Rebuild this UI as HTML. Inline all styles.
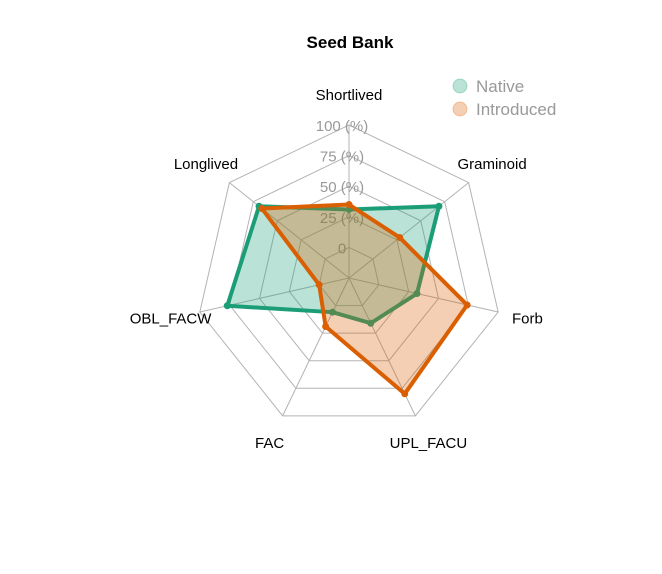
<!DOCTYPE html>
<html><head><meta charset="utf-8"><style>
body{margin:0;background:#fff}
svg{display:block;font-family:"Liberation Sans",Arial,sans-serif}
</style></head><body>
<svg id="c" width="662" height="574">
<text x="350" y="48" text-anchor="middle" font-weight="bold" font-size="17">Seed Bank</text>
<g id="grid"></g>
<g id="ticks"></g>
<g id="series"></g>
<g id="labels"></g>
<g>
<g><circle cx="460" cy="86" r="7" fill="#1b9e77" fill-opacity="0.3" stroke="#1b9e77" stroke-opacity="0.3"/><text x="476" y="92" font-size="17" fill="#999">Native</text></g>
<g><circle cx="460" cy="109" r="7" fill="#d95f02" fill-opacity="0.3" stroke="#d95f02" stroke-opacity="0.3"/><text x="476" y="115" font-size="17" fill="#999">Introduced</text></g>
</g>
</svg>
<script>
const categories=["Shortlived","Graminoid","Forb","UPL_FACU","FAC","OBL_FACW","Longlived"];
const nativeValues=[31,69,32,16,6,77,69];
const introducedValues=[35,28,74,80,19,0,66];
const tickLabels=["0","25 (%)","50 (%)","75 (%)","100 (%)"];
const cx=349,cy=278,R=153,seg=4,ns="http://www.w3.org/2000/svg";
function rad(v){return (v/100*seg+1)/(seg+1)*R;}
function pt(i,r){const a=i*2*Math.PI/categories.length;return [cx+r*Math.sin(a),cy-r*Math.cos(a)];}
function mk(t,at,p){const e=document.createElementNS(ns,t);for(const k in at)e.setAttribute(k,at[k]);p.appendChild(e);return e;}
const g=document.getElementById('grid');
for(let s=0;s<=seg;s++){const r=(s+1)/(seg+1)*R;
 const e=mk('polygon',{points:categories.map((c,i)=>pt(i,r).join(',')).join(' '),fill:'none',stroke:'#b3b3b3','stroke-width':1},g);
 
 }
categories.forEach((c,i)=>{const a=pt(i,0),b=pt(i,R);
 const e=mk('line',{x1:a[0],y1:a[1],x2:b[0],y2:b[1],stroke:'#b3b3b3','stroke-width':1},g);
 
 });
const tg=document.getElementById('ticks');
tickLabels.forEach((t,s)=>{const r=(s+1)/(seg+1)*R;
 const e=mk('text',{x:cx-7,y:cy-r+6,'text-anchor':'middle','font-size':15,fill:'#999'},tg);e.textContent=t;
 
 });
const sg=document.getElementById('series');
[[nativeValues,'#1b9e77','native'],[introducedValues,'#d95f02','introduced']].forEach(([vals,col,nm])=>{
 const pts=vals.map((v,i)=>pt(i,rad(v)));
 const p=mk('polygon',{points:pts.map(q=>q.join(',')).join(' '),fill:col,'fill-opacity':0.3,stroke:col,'stroke-width':4,'stroke-linejoin':'round'},sg);
 
 
 pts.forEach(q=>{const d=mk('circle',{cx:q[0],cy:q[1],r:3.5,fill:col},sg);
  
  });
});
const lg=document.getElementById('labels');
categories.forEach((c,i)=>{const q=pt(i,R+30);
 const e=mk('text',{x:q[0],y:q[1]+5,'text-anchor':'middle','font-size':15,fill:'#000'},lg);e.textContent=c;
 
 });
</script>
</body></html>
